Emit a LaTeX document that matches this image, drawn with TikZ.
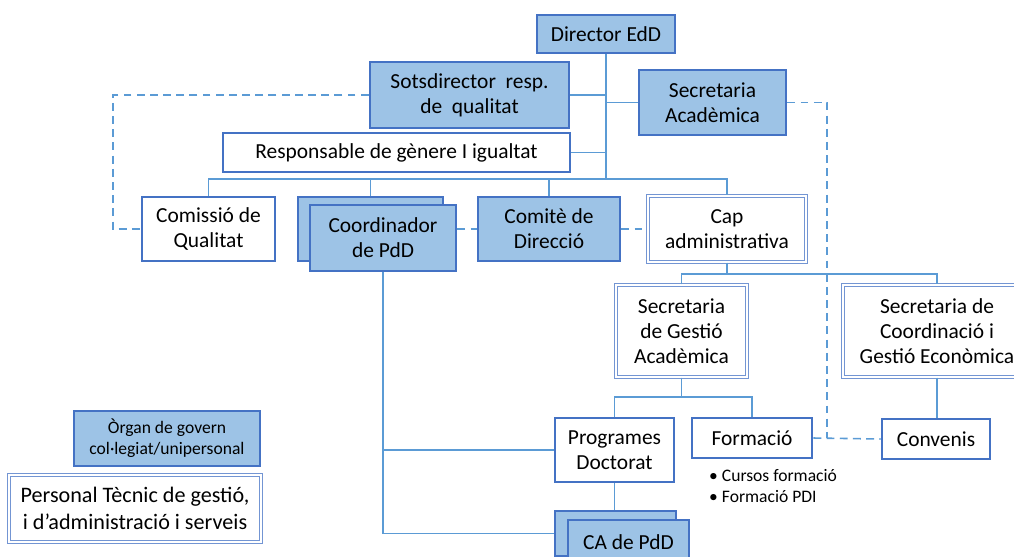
\documentclass[tikz,border=0pt]{standalone}
\usepackage{fontspec}
\setmainfont{Carlito}
\usepackage{xcolor}
\usepackage{tikz}
\usetikzlibrary{calc, positioning}
\definecolor{govfill}{HTML}{9DC3E6}
\definecolor{govdraw}{HTML}{4472C4}
\definecolor{linkblue}{HTML}{5B9BD5}
\tikzset{
    boxtext/.style={font=\fontsize{12.2}{14.2}\selectfont},
    govern/.style={rectangle, draw=govdraw, line width=1.6pt, fill=govfill, align=center, inner sep=1pt, boxtext},
    tecnic/.style={rectangle, draw=govdraw, line width=1.6pt, fill=white, align=center, inner sep=1pt, boxtext},
    personal/.style={rectangle, draw=govdraw!75, line width=0.6pt, double=white, double distance=1.3pt, fill=white, align=center, inner sep=1pt, boxtext},
    conn/.style={draw=linkblue, line width=0.9pt},
    dashconn/.style={conn, dash pattern=on 4.5pt off 3pt},
    small/.style={font=\fontsize{10}{12}\selectfont}
}

\begin{document}
\begin{tikzpicture}[x=0.02cm, y=-0.02cm]
    \clip (0,0) rectangle (1014,556);

    % Direccio
    \node[govern, minimum width=2.76cm, minimum height=0.76cm] (dir) at (606,34) {Director EdD};
    \node[govern, minimum width=3.98cm, minimum height=1.32cm] (sots) at (469.5,95) {Sotsdirector~ resp.\\de~ qualitat};
    \node[govern, minimum width=2.94cm, minimum height=1.30cm] (secac) at (712.5,102.5) {Secretaria\\Acadèmica};
    \node[tecnic, minimum width=6.94cm, minimum height=0.78cm] (resp) at (396.5,152.5) {Responsable de gènere I igualtat};

    % Segon nivell
    \node[tecnic, minimum width=2.66cm, minimum height=1.28cm] (comis) at (208.5,229) {Comissió de\\Qualitat};
    \node[govern, minimum width=2.90cm, minimum height=1.28cm] (coordB) at (370.5,229) {};
    \node[govern, minimum width=2.92cm, minimum height=1.32cm] (coord) at (383,238) {Coordinador\\de PdD};
    \node[govern, minimum width=2.84cm, minimum height=1.28cm] (comite) at (549,229) {Comitè de\\Direcció};
    \node[personal, minimum width=3.16cm, minimum height=1.32cm] (cap) at (727,229) {Cap\\administrativa};

    % Secretaries
    \node[personal, minimum width=2.62cm, minimum height=1.84cm] (secgest) at (681.5,331) {Secretaria\\de Gestió\\Acadèmica};
    \node[personal, minimum width=3.76cm, minimum height=1.84cm] (seccoord) at (937,331) {Secretaria de\\Coordinació i\\Gestió Econòmica};

    % Unitats
    \node[tecnic, minimum width=2.38cm, minimum height=1.28cm] (prog) at (614.5,450) {Programes\\Doctorat};
    \node[tecnic, minimum width=2.40cm, minimum height=0.80cm] (form) at (752,438) {Formació};
    \node[tecnic, minimum width=2.16cm, minimum height=0.80cm] (conv) at (936,439) {Convenis};
    \node[small, anchor=west, align=left] (cursos) at (703,486) {\textbullet~Cursos formació\\\textbullet~Formació PDI};
    \node[govern, minimum width=2.42cm, minimum height=0.90cm] (caB) at (615.5,533.5) {};
    \node[govern, minimum width=2.42cm, minimum height=0.90cm] (ca) at (628.5,542.5) {CA de PdD};

    % Llegenda
    \node[govern, small, minimum width=3.72cm, minimum height=1.10cm] (organ) at (167,438.5) {Òrgan de govern\\col·legiat/unipersonal};
    \node[personal, minimum width=5.04cm, minimum height=1.34cm, font=\fontsize{12.6}{15}\selectfont] (pers) at (135,508.5) {Personal Tècnic de gestió,\\i d’administració i serveis};

    % Connectors
    \coordinate (busA) at (606,179);
    \coordinate (busB) at (727,274);
    \coordinate (busC) at (681.5,397);
    \coordinate (qL) at (113,229);
    \coordinate (dR) at (827,438);

    \draw[conn] (dir.south) -- (busA);
    \draw[conn] (sots.east) -- (sots.east -| dir.south);
    \draw[conn] (secac.west) -- (secac.west -| dir.south);
    \draw[conn] (resp.east) -- (resp.east -| dir.south);
    \draw[conn] (comis.north) |- (busA) -| (cap.north);
    \draw[conn] (coordB.north) -- (coordB.north |- busA);
    \draw[conn] (comite.north) -- (comite.north |- busA);

    \draw[conn] (cap.south) -- (busB);
    \draw[conn] (secgest.north) |- (busB) -| (seccoord.north);
    \draw[conn] (secgest.south) -- (busC);
    \draw[conn] (prog.north) |- (busC) -| (form.north);
    \draw[conn] (seccoord.south) -- (seccoord.south |- conv.north);

    \draw[conn] (coord.south) |- (caB.west);
    \draw[conn] (coord.south |- prog.west) -- (prog.west);
    \draw[conn] (prog.south) -- (prog.south |- caB.north);

    % Dependencies funcionals
    \draw[dashconn] (sots.west) -| (qL) -- (comis.west);
    \draw[dashconn] (comite.west -| coord.east) -- (comite.west);
    \draw[dashconn] (comite.east) -- (cap.west);
    \draw[dashconn] (secac.east) -| (dR);
    \draw[dashconn] (form.east) -- (conv.west);
\end{tikzpicture}
\end{document}
